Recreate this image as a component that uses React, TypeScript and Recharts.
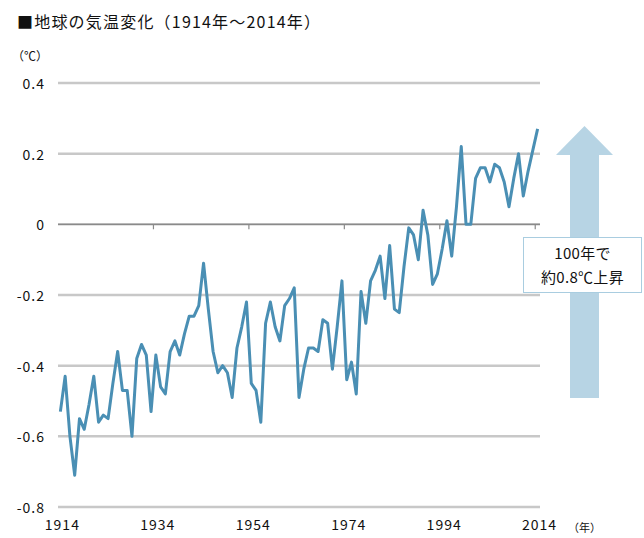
import React from "react";
import { LineChart, Line, XAxis, YAxis, CartesianGrid, ReferenceLine } from "recharts";

const titleText = "■地球の気温変化（1914年～2014年）";
const unitText = "（℃）";
const yearUnitText = "（年）";
const noteLines = ["100年で", "約0.8℃上昇"];

const startYear = 1914;
const temps = [
  -0.53, -0.43, -0.6, -0.71, -0.55, -0.58, -0.51, -0.43, -0.56, -0.54,
  -0.55, -0.45, -0.36, -0.47, -0.47, -0.6, -0.38, -0.34, -0.37, -0.53,
  -0.37, -0.46, -0.48, -0.36, -0.33, -0.37, -0.31, -0.26, -0.26, -0.23,
  -0.11, -0.24, -0.36, -0.42, -0.4, -0.42, -0.49, -0.35, -0.29, -0.22,
  -0.45, -0.47, -0.56, -0.28, -0.22, -0.29, -0.33, -0.23, -0.21, -0.18,
  -0.49, -0.41, -0.35, -0.35, -0.36, -0.27, -0.28, -0.41, -0.29, -0.16,
  -0.44, -0.39, -0.48, -0.19, -0.28, -0.16, -0.13, -0.09, -0.21, -0.06,
  -0.24, -0.25, -0.12, -0.01, -0.03, -0.1, 0.04, -0.03, -0.17, -0.14,
  -0.07, 0.01, -0.09, 0.05, 0.22, 0.0, 0.0, 0.13, 0.16, 0.16,
  0.12, 0.17, 0.16, 0.12, 0.05, 0.13, 0.2, 0.08, 0.15, 0.21,
  0.27,
];
const xTicks = [1914, 1934, 1954, 1974, 1994, 2014];
const yTicks = [-0.8, -0.6, -0.4, -0.2, 0, 0.2, 0.4];
const axisTickMarks = [1933.5, 1953.5, 1973.5, 1993.5, 2013.5];

const data = temps.map((t, i) => ({ year: startYear + i, temp: t }));

const font = '"Noto Sans CJK JP", "Noto Sans", sans-serif';

const YTick = (props: any) => {
  const v = props.payload.value;
  const label = v === 0 ? "0" : v.toFixed(1);
  return (
    <text x={45} y={props.y} textAnchor="end" dominantBaseline="central" fontSize={14} fill="#111" fontFamily={font} letterSpacing={1}>
      {label}
    </text>
  );
};

const XTick = (props: any) => (
  <text x={props.x + 2} y={props.y + 9} textAnchor="middle" dominantBaseline="central" fontSize={14} fill="#111" fontFamily={font} letterSpacing={1}>
    {props.payload.value}
  </text>
);

export default function App() {
  return (
    <div style={{ position: "absolute", left: 0, top: 0, width: 644, height: 538, background: "#fff", fontFamily: font }}>
      <div style={{ position: "absolute", left: 17, top: 10, fontSize: 16, letterSpacing: 1.2, color: "#111", whiteSpace: "nowrap", lineHeight: "22px" }}>
        {titleText}
      </div>
      <div style={{ position: "absolute", left: 12, top: 48, fontSize: 12, color: "#111", whiteSpace: "nowrap", lineHeight: "16px" }}>
        {unitText}
      </div>
      <div style={{ position: "absolute", left: 568, top: 519, fontSize: 11, color: "#111", whiteSpace: "nowrap", lineHeight: "16px" }}>
        {yearUnitText}
      </div>
      <LineChart width={644} height={538} data={data} margin={{ top: 83, right: 104, bottom: 0, left: 0 }} style={{ position: "absolute", left: 0, top: 0 }}>
        <CartesianGrid vertical={false} stroke="#c8c8c8" strokeWidth={2.5} />
        <XAxis
          dataKey="year"
          type="number"
          domain={[1913.5, 2014.5]}
          ticks={xTicks}
          axisLine={false}
          tickLine={false}
          height={31}
          tick={<XTick />}
          interval={0}
        />
        <YAxis
          type="number"
          domain={[-0.8, 0.4]}
          ticks={yTicks}
          axisLine={false}
          tickLine={false}
          width={58}
          tick={<YTick />}
          interval={0}
        />
        <ReferenceLine y={0} stroke="#8a8a8a" strokeWidth={1.2} />
        {axisTickMarks.map((m) => (
          <ReferenceLine key={m} segment={[{ x: m, y: 0 }, { x: m, y: -0.014 }]} stroke="#8a8a8a" strokeWidth={1.2} />
        ))}
        <Line type="linear" dataKey="temp" stroke="#4a8fb4" strokeWidth={3} dot={false} isAnimationActive={false} strokeLinejoin="round" />
      </LineChart>
      <svg width={644} height={538} style={{ position: "absolute", left: 0, top: 0, pointerEvents: "none" }}>
        <polygon points="584.5,126 613,155 599,155 599,398 570,398 570,155 556,155" fill="#b7d4e4" />
      </svg>
      <div
        style={{
          position: "absolute",
          left: 523,
          top: 237,
          width: 119,
          height: 56,
          background: "#fff",
          border: "1px solid #a9cde0",
          textAlign: "center",
          fontSize: 15,
          letterSpacing: 0.3,
          color: "#111",
          lineHeight: "24px",
          paddingTop: 3,
          boxSizing: "border-box",
          whiteSpace: "nowrap",
        }}
      >
        <div>{noteLines[0]}</div>
        <div>{noteLines[1]}</div>
      </div>
    </div>
  );
}
